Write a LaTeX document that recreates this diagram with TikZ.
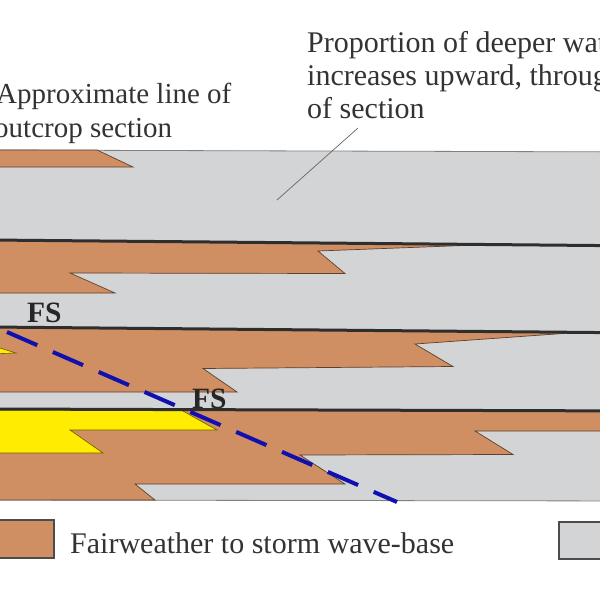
\documentclass[tikz,border=0pt]{standalone}
\usepackage{fontspec}
\setmainfont{Liberation Serif}
\definecolor{shelf}{HTML}{D08F62}
\definecolor{deep}{HTML}{D3D4D6}
\definecolor{sand}{HTML}{FFEC00}
\definecolor{fsline}{HTML}{2E2E2E}
\definecolor{outcrop}{HTML}{1010B0}
\begin{document}
\begin{tikzpicture}[x=1pt,y=-1pt,
  deepfill/.style={fill=deep,draw=black!50,line width=0.8pt},
  brownfill/.style={fill=shelf,draw=shelf!45!black,line width=0.7pt},
  yellowfill/.style={fill=sand,draw=sand!40!black,line width=0.6pt},
  surface/.style={draw=fsline,line width=3pt},
  txt/.style={anchor=base west,inner sep=0pt,font=\fontsize{29}{34}\selectfont,text=black!80},
  bigtxt/.style={txt,font=\fontsize{30}{34}\selectfont},
  fslabel/.style={anchor=base west,inner sep=0pt,font=\fontsize{29.5}{34}\selectfont\bfseries,text=black!85},
  outcropline/.style={draw=outcrop,line width=4pt,dash pattern=on 33pt off 17pt},
  callout/.style={draw=black!60,line width=0.7pt},
  legendbox/.style={line width=1.6pt,draw=black!70}]
\useasboundingbox (0,0) rectangle (600,600);
\clip (0,0) rectangle (600,600);

% deep-water background
\path[deepfill] (-10,150) -- (650,152) -- (650,501) -- (-10,500) -- cycle;

% layer 1 tongue
\path[brownfill] (-10,150) -- (97,150) -- (133,167) -- (-10,167) -- cycle;

% layer 2
\path[brownfill] (-10,240) -- (487,244.6) -- (318,251) -- (345,273.5) -- (70,273) -- (115,293) -- (-10,293) -- cycle;

% layer 3
\path[brownfill] (-10,327) -- (577,332.5) -- (415,344) -- (453,366.5) -- (203,368.5) -- (237,392) -- (-10,392) -- cycle;
\path[yellowfill] (-10,345) -- (16,353) -- (-10,354) -- cycle;

% layer 4
\path[brownfill] (-10,409) -- (650,411) -- (650,431) -- (475,431) -- (513,454.5) -- (300,455) -- (345,484) -- (135,484) -- (155,500) -- (-10,500) -- cycle;
\path[yellowfill] (-10,410) -- (182,410.5) -- (217,430) -- (70,430) -- (103,453) -- (-10,453) -- cycle;

% flooding surfaces
\draw[surface] (-10,240) -- (650,246);
\draw[surface] (-10,327) -- (650,333);
\draw[surface] (-10,409) -- (650,411);

% line of outcrop section
\coordinate (secA) at (7,332);
\coordinate (secB) at (397,502);
\draw[outcropline] (secA) -- (secB);

% FS labels
\node[fslabel] (fs1) at (27,322) {FS};
\node[fslabel] (fs2) at (192,408) {FS};

% annotations
\node[txt] (ann1a) at (-4,103) {Approximate line of};
\node[txt] (ann1b) at (-6,137) {outcrop section};
\node[bigtxt] (ann2a) at (307,52) {Proportion of deeper water};
\node[bigtxt] (ann2b) at (307,85) {increases upward, through};
\node[bigtxt] (ann2c) at (307,118) {of section};
\coordinate (callA) at (277,200);
\coordinate (callB) at (358,128);
\draw[callout] (callA) -- (callB);

% legend
\path[legendbox,fill=shelf] (-10,520) rectangle (54,558);
\node[bigtxt] (leg1) at (70,553) {Fairweather to storm wave-base};
\path[legendbox,fill=deep] (559,522) rectangle (650,559);
\end{tikzpicture}
\end{document}
